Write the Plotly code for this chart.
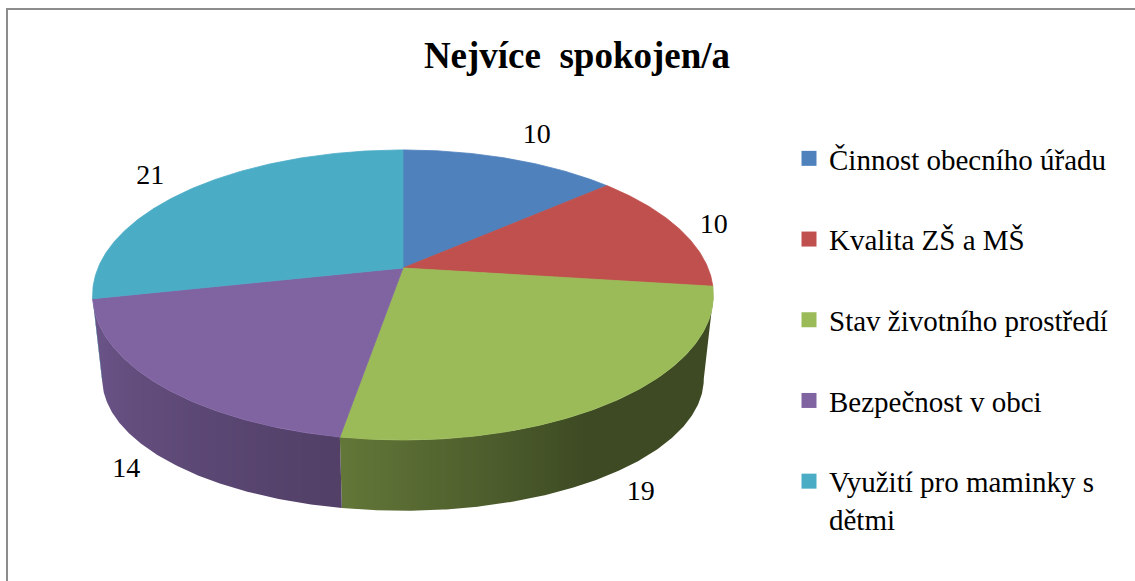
import numpy as np
import plotly.graph_objects as go

# ---- data ----
categories = ["Činnost obecního úřadu", "Kvalita ZŠ a MŠ", "Stav životního prostředí",
              "Bezpečnost v obci", "Využití pro maminky s<br>dětmi"]
values = [10, 10, 19, 14, 21]
colors = ["#4F81BD", "#C0504D", "#9BBB59", "#8064A2", "#4BACC6"]
title_text = "Nejvíce\u00a0 spokojen/a"

# ---- geometry of the 3D pie (pixel-like axis units) ----
W, H = 1135, 581
CX, CY = 403, 268          # apex (projected centre of the pie)
RX, RY, K = 305, 140, 0.186  # perspective ellipse
BSX, BSY, BY0, BYT = 0.969, 0.91, 377, 293  # bottom-face transform
LBL_BACK = (325, 145)      # label ellipse radii for back labels
LBL_FRONT = (400, 280)     # label ellipse radii for front labels (below the side)
FONT = "Liberation Serif"


def proj(theta_deg, r=1.0):
    t = np.radians(theta_deg)
    u = r * np.sin(t)
    v = r * np.cos(t)
    d = 1 + K * v
    return CX + RX * u / d, CY - RY * v / d


def to_bottom(x, y):
    return CX + BSX * (x - CX), BY0 + BSY * (y - BYT)


def hex_rgb(h):
    h = h.lstrip("#")
    return tuple(int(h[i:i + 2], 16) for i in (0, 2, 4))


def shade(theta):
    return np.interp(theta, [100, 150, 190, 262], [0.40, 0.40, 0.64, 0.88])


total = sum(values)
bounds = np.concatenate([[0], np.cumsum(values)]) / total * 360.0
VIS_LO, VIS_HI = 100.7, 259.3

fig = go.Figure()

# sides (front, visible part)
for i, c in enumerate(colors):
    a0, a1 = bounds[i], bounds[i + 1]
    lo, hi = max(a0, VIS_LO), min(a1, VIS_HI)
    if hi <= lo:
        continue
    th = np.linspace(lo, hi, max(int((hi - lo) * 2), 4))
    xt, yt = proj(th)
    xb, yb = to_bottom(xt, yt)
    xs = np.concatenate([xt, xb[::-1], xt[:1]])
    ys = np.concatenate([yt, yb[::-1], yt[:1]])
    base = np.array(hex_rgb(c))
    xmin, xmax = xt.min(), xt.max()
    order = np.argsort(xt)
    pos = (xt[order] - xmin) / (xmax - xmin)
    cs = []
    last = -1
    for p, t in zip(pos, th[order]):
        if p <= last:
            continue
        rgb = np.clip(base * shade(t), 0, 255).astype(int)
        cs.append([float(p), f"rgb({rgb[0]},{rgb[1]},{rgb[2]})"])
        last = p
    cs[0][0] = 0.0
    cs[-1][0] = 1.0
    mid_rgb = np.clip(base * shade((lo + hi) / 2), 0, 255).astype(int)
    fig.add_trace(go.Scatter(
        x=xs, y=ys, mode="lines", fill="toself",
        fillcolor=f"rgb({mid_rgb[0]},{mid_rgb[1]},{mid_rgb[2]})",
        fillgradient=dict(type="horizontal", colorscale=cs),
        line=dict(width=0), hoverinfo="skip", showlegend=False))

# top faces
for i, c in enumerate(colors):
    a0, a1 = bounds[i], bounds[i + 1]
    th = np.linspace(a0, a1, max(int((a1 - a0) * 2), 6))
    xa, ya = proj(th)
    xs = np.concatenate([[CX], xa, [CX]])
    ys = np.concatenate([[CY], ya, [CY]])
    fig.add_trace(go.Scatter(
        x=xs, y=ys, mode="lines", fill="toself", fillcolor=c,
        line=dict(width=0.8, color=c), hoverinfo="skip", showlegend=False))

# data labels
mids = np.radians((bounds[:-1] + bounds[1:]) / 2)
front = np.cos(mids) < 0
ax = np.where(front, LBL_FRONT[0], LBL_BACK[0])
by = np.where(front, LBL_FRONT[1], LBL_BACK[1])
lx = CX + ax * np.sin(mids)
ly = CY - by * np.cos(mids)
fig.add_trace(go.Scatter(
    x=lx, y=ly, mode="text", text=[str(v) for v in values],
    textfont=dict(family=FONT, size=28, color="black"),
    hoverinfo="skip", showlegend=False))

# legend entries
for i, (name, c) in enumerate(zip(categories, colors)):
    fig.add_trace(go.Scatter(
        x=[None], y=[None], mode="markers", name=name, legendgroup=f"g{i}",
        marker=dict(symbol="square", size=15, color=c)))

fig.add_shape(type="rect", xref="x", yref="y", x0=7, y0=9, x1=W + 20, y1=H + 20,
              line=dict(color="#8c8c8c", width=2), fillcolor="rgba(0,0,0,0)", layer="above")

fig.update_layout(
    width=W, height=H, autosize=False,
    margin=dict(l=0, r=0, t=0, b=0),
    paper_bgcolor="white", plot_bgcolor="white",
    xaxis=dict(range=[0, W], visible=False, fixedrange=True),
    yaxis=dict(range=[H, 0], visible=False, fixedrange=True),
    title=dict(text=title_text, x=577 / W, xanchor="center", y=1 - 55 / H,
               yanchor="middle", yref="container",
               font=dict(family=FONT, size=37, color="black", weight="bold")),
    legend=dict(x=789 / W, y=1 - 133 / H, xanchor="left", yanchor="top",
                font=dict(family=FONT, size=29, color="black"),
                traceorder="grouped", tracegroupgap=40, valign="top",
                bgcolor="rgba(0,0,0,0)", itemclick=False, itemdoubleclick=False),
    showlegend=True,
)

fig.write_html("out.html", config={"displayModeBar": False},
               post_script="document.body.style.margin='0';")
